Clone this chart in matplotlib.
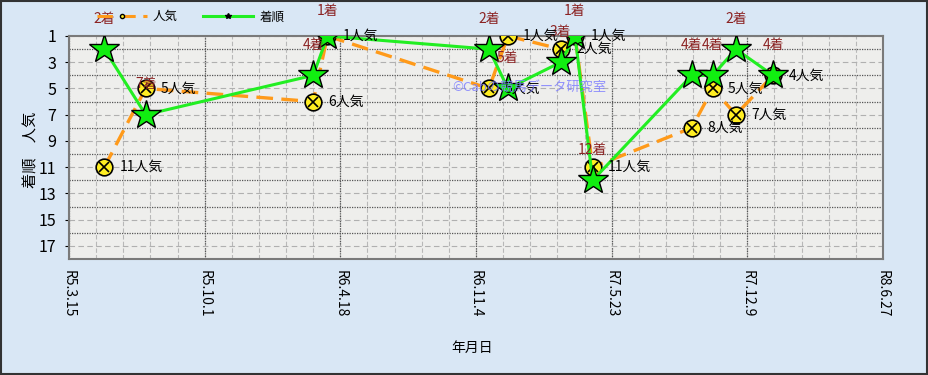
import datetime as dt
import matplotlib
matplotlib.use("Agg")
import matplotlib.pyplot as plt
from matplotlib.lines import Line2D
from matplotlib.patches import Rectangle

plt.rcParams["font.family"] = ["Noto Sans CJK JP", "DejaVu Sans"]

# ── data ───────────────────────────────────────────────────────────────────
RACE_DATES = ["2023-05-06", "2023-07-06", "2024-03-09", "2024-03-30",
              "2024-11-23", "2024-12-21", "2025-03-09", "2025-03-30",
              "2025-04-25", "2025-09-18", "2025-10-19", "2025-11-22",
              "2026-01-16"]
FINISH = [2, 7, 4, 1, 2, 5, 3, 1, 12, 4, 4, 2, 4]        # 着順
POPULARITY = [11, 5, 6, 1, 5, 1, 2, 1, 11, 8, 5, 7, 4]   # 人気

X_START = "2023-03-15"
X_END = "2026-06-27"
X_STEP_DAYS = 200
Y_TICKS = [1, 3, 5, 7, 9, 11, 13, 15, 17]

BG_OUTER = "#d9e7f5"
BG_PLOT = "#eeeeec"
ORANGE = "#ff9a1a"
GREEN = "#22ee22"
LABEL_RED = "#8b2323"

dates = [dt.datetime.strptime(d, "%Y-%m-%d") for d in RACE_DATES]
x0 = dt.datetime.strptime(X_START, "%Y-%m-%d")
x1 = dt.datetime.strptime(X_END, "%Y-%m-%d")


def reiwa(d):
    return f"R{d.year - 2018}.{d.month}.{d.day}"


fig = plt.figure(figsize=(9.29, 3.75), dpi=100)
fig.patch.set_facecolor(BG_OUTER)
fig.patches.append(Rectangle((0.001, 0.002), 0.997, 0.995, transform=fig.transFigure,
                             fill=False, edgecolor="#333333", linewidth=1.5))

ax = fig.add_axes([0.0743, 0.3093, 0.8762, 0.5947])
ax.set_facecolor(BG_PLOT)

# grid
major_x = [x0 + dt.timedelta(days=X_STEP_DAYS * i) for i in range(7)]
minor_x = [x0 + dt.timedelta(days=40 * i) for i in range(31)]
for d in minor_x:
    ax.axvline(d, color="#b8b8b8", linestyle=(0, (4, 2)), linewidth=0.8, zorder=1)
for d in major_x:
    ax.axvline(d, color="#555555", linestyle=(0, (1, 1)), linewidth=0.9, zorder=1)
for y in Y_TICKS:
    ax.axhline(y, color="#b0b0b0", linestyle=(0, (5, 3)), linewidth=0.8, zorder=1)
for y in range(2, 18, 2):
    ax.axhline(y, color="#555555", linestyle=(0, (1, 1)), linewidth=0.9, zorder=1)

# popularity line
ax.plot(dates, POPULARITY, color=ORANGE, linestyle=(0, (5, 2.5)), linewidth=2.4, zorder=3)
ax.plot(dates, POPULARITY, linestyle="none", marker="o", markersize=12,
        markerfacecolor="#ffee22", markeredgecolor="black", markeredgewidth=1.2, zorder=4)
ax.plot(dates, POPULARITY, linestyle="none", marker="x", markersize=7,
        markeredgecolor="black", markeredgewidth=1.2, zorder=4)

# finish line
ax.plot(dates, FINISH, color=GREEN, linewidth=2.2, zorder=5)
ax.plot(dates, FINISH, linestyle="none", marker="*", markersize=22,
        markerfacecolor="#11ee11", markeredgecolor="black", markeredgewidth=1.0, zorder=6)

for d, r in zip(dates, FINISH):
    ax.annotate(f"{r}着", (d, r), xytext=(0, 18 if r == 1 else 22), textcoords="offset points",
                ha="center", va="center", fontsize=10, color=LABEL_RED,
                annotation_clip=False, zorder=7)
for d, p in zip(dates, POPULARITY):
    ax.annotate(f"{p}人気", (d, p), xytext=(11, 0), textcoords="offset points",
                ha="left", va="center", fontsize=10, color="black",
                annotation_clip=False, zorder=7)

ax.text(0.471, 0.755, "©Cabの競馬データ研究室", transform=ax.transAxes,
        fontsize=9.5, color="#7f7fff", alpha=0.85, zorder=8)

# axes
ax.set_xlim(x0, x1)
ax.set_ylim(18, 1)
ax.set_xticks(major_x)
ax.set_xticklabels([reiwa(d) for d in major_x], rotation=270, fontsize=10)
ax.set_yticks(Y_TICKS)
ax.set_yticklabels([str(y) for y in Y_TICKS], fontsize=11.5)
ax.tick_params(axis="x", length=0, pad=8)
ax.tick_params(axis="y", length=3, pad=6)
for s in ax.spines.values():
    s.set_color("#7a7a7a")
    s.set_linewidth(1.5)

fig.text(0.508, 0.072, "年月日", ha="center", va="center", fontsize=10)
fig.text(0.033, 0.6, "着順　人気", ha="center", va="center", rotation=90, fontsize=11)

handles = [
    Line2D([], [], color=ORANGE, linestyle=(0, (5, 2.5)), linewidth=2.2,
           marker="o", markersize=3, markerfacecolor="#ffee22", markeredgecolor="black"),
    Line2D([], [], color=GREEN, linewidth=2.2,
           marker="*", markersize=4, markerfacecolor="black", markeredgecolor="black"),
]
fig.legend(handles, ["人気", "着順"], loc="center left", bbox_to_anchor=(0.092, 0.955),
           ncol=2, frameon=False, fontsize=9, handlelength=4.0, columnspacing=2.0,
           handletextpad=0.5)

fig.savefig("out.png", dpi=100, facecolor=BG_OUTER)
